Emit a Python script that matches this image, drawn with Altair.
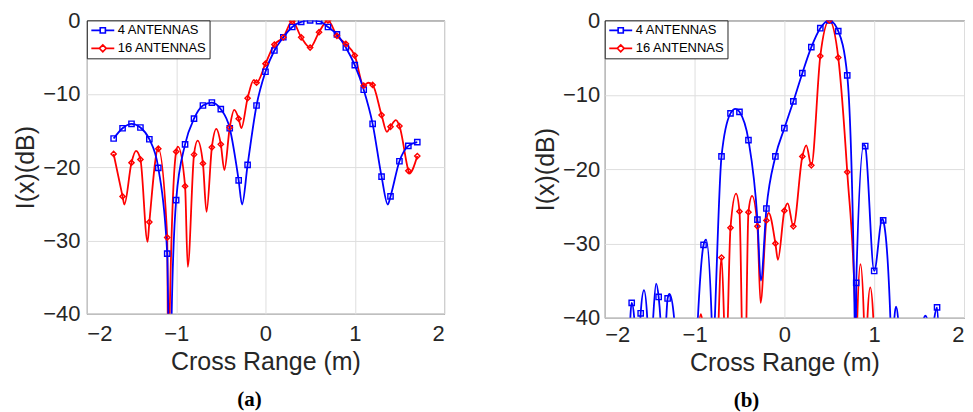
import altair as alt
import pandas as pd

# ---------------- data ----------------
SERIES = ["4 ANTENNAS", "16 ANTENNAS"]

X_MARK = [-1.7, -1.6, -1.5, -1.4, -1.3, -1.2, -1.1, -1.0, -0.9, -0.8, -0.7, -0.6,
          -0.5, -0.4, -0.3, -0.2, -0.1, 0.0, 0.1, 0.2, 0.3, 0.4, 0.5, 0.6, 0.7,
          0.8, 0.9, 1.0, 1.1, 1.2, 1.3, 1.4, 1.5, 1.6, 1.7]

# panel (a) marker values (dB)
A_BLUE = [-16.1, -14.7, -14.1, -14.6, -16.2, -20.1, -31.8, -24.5, -16.9, -13.4, -11.6, -11.2,
          -12.1, -14.7, -21.8, -19.7, -11.6, -7.0, -4.1, -2.3, -0.9, -0.2, 0.0, -0.1, -0.9,
          -1.9, -3.7, -6.1, -9.45, -14.1, -21.3, -24.0, -19.2, -17.1, -16.6]
A_RED = [-18.2, -24.0, -19.4, -18.95, -27.5, -17.5, -29.6, -17.9, -22.6, -18.3, -19.5, -17.3,
         -16.9, -14.6, -13.4, -10.6, -8.5, -5.9, -3.3, -2.3, -0.1, -2.3, -3.7, -1.6, 0.0,
         -2.1, -3.2, -4.8, -8.9, -8.8, -12.9, -14.5, -14.4, -20.5, -18.5]
# panel (a) extra curve points (peaks, nulls) between markers
A_BLUE_EX_X = [-1.088, -1.07, -1.05, -0.262, 1.37]
A_BLUE_EX_Y = [-40.0, -55.0, -40.0, -25.1, -25.1]
A_RED_EX_X = [-1.58, -1.45, -1.32, -1.087, -1.072, -0.98, -0.87, -0.76, -0.66, -0.55,
              -0.46, -0.35, -0.27, -0.13, 1.15, 1.36, 1.46, 1.61]
A_RED_EX_Y = [-25.1, -17.8, -30.2, -55.0, -40.0, -17.2, -33.6, -16.4, -26.1, -14.8,
              -20.4, -12.2, -14.7, -8.1, -8.5, -15.2, -13.6, -20.9]

# panel (b) marker values (dB); values under -40 are off the plot
B_BLUE = [-38.0, -39.4, -50.0, -37.2, -37.4, -50.0, -50.0, -50.0, -30.2, -48.0, -18.3, -12.5,
          -12.3, -16.1, -26.8, -25.3, -18.3, -14.5, -10.9, -7.1, -3.6, -1.05, 0.0, -1.45, -7.4,
          -35.3, -16.9, -33.7, -26.9, -50.0, -50.0, -50.0, -50.0, -50.0, -38.6]
B_RED = [-50.0, -50.0, -50.0, -50.0, -50.0, -50.0, -50.0, -50.0, -41.5, -55.0, -31.9, -27.9,
         -25.7, -25.8, -27.7, -26.9, -30.0, -25.6, -27.7, -18.3, -19.5, -4.8, 0.0, -5.0, -20.4,
         -50.0, -50.0, -50.0, -50.0, -50.0, -50.0, -50.0, -50.0, -50.0, -50.0]
B_BLUE_EX_X = [-1.73, -1.715, -1.672, -1.64, -1.563, -1.527, -1.461, -1.428, -1.381, -1.35,
               -1.315, -1.279, -1.228, -0.963, -0.872, -0.81, -0.774, -0.545, -0.262,
               0.782, 0.79, 0.885, 1.09, 1.18, 1.225, 1.243, 1.265, 1.555, 1.57, 1.585,
               1.67, 1.725]
B_BLUE_EX_Y = [-50.0, -40.0, -40.0, -50.0, -36.3, -40.0, -40.0, -35.4, -40.0, -50.0,
               -40.0, -36.8, -40.0, -40.0, -29.5, -40.0, -40.0, -11.9, -35.0,
               -40.0, -55.0, -16.7, -26.7, -40.0, -40.0, -38.5, -40.0, -40.0, -39.7, -40.0,
               -40.0, -44.0]
B_RED_EX_X = [-0.96, -0.93, -0.75, -0.65, -0.538, -0.447, -0.36, -0.265, -0.175, -0.072,
              0.037, 0.244, 0.79, 0.812, 0.847, 0.885, 0.925, 0.956, 0.99]
B_RED_EX_Y = [-42.0, -39.5, -46.0, -46.0, -23.3, -55.0, -23.6, -38.0, -25.9, -32.2,
              -24.6, -16.8, -40.0, -40.0, -32.8, -40.0, -40.0, -35.9, -40.0]

BLUE = "#0000ff"
RED = "#ff0000"
FONT = "Liberation Sans"
TXT = "#262626"


def frames(blue, red, bx, by, rx, ry):
    marks = pd.DataFrame({
        "x": X_MARK + X_MARK,
        "y": blue + red,
        "series": [SERIES[0]] * len(X_MARK) + [SERIES[1]] * len(X_MARK),
    })
    extra = pd.DataFrame({
        "x": bx + rx,
        "y": by + ry,
        "series": [SERIES[0]] * len(bx) + [SERIES[1]] * len(rx),
    })
    line = pd.concat([marks, extra]).sort_values(["series", "x"]).reset_index(drop=True)
    return marks, line


legend_paths = [
    "M-2,0H-0.45M0.45,0H2M-0.45,-0.45H0.45V0.45H-0.45Z",
    "M-2,0H-0.6M0.6,0H2M0,-0.6L0.6,0L0,0.6L-0.6,0Z",
]


def cscale():
    return alt.Scale(domain=SERIES, range=[BLUE, RED])


def panel(blue, red, bx, by, rx, ry, w, h, caption, cap_dx, lab_pad, xlab_pad):
    marks, line = frames(blue, red, bx, by, rx, ry)
    xenc = alt.X("x:Q", scale=alt.Scale(domain=[-2, 2], nice=False),
                 axis=alt.Axis(values=[-2, -1, 0, 1, 2], title="Cross Range (m)",
                               format="d", labelPadding=xlab_pad, titlePadding=5))
    yenc = alt.Y("y:Q", scale=alt.Scale(domain=[-40, 0], nice=False),
                 axis=alt.Axis(values=[-40, -30, -20, -10, 0], title="I(x)(dB)",
                               format="d", labelPadding=lab_pad, titlePadding=4))
    lines = alt.Chart(line).mark_line(clip=True, strokeWidth=1.8, interpolate="monotone").encode(
        x=xenc, y=yenc,
        color=alt.Color("series:N", scale=cscale(), legend=None),
    )
    pts = alt.Chart(marks).mark_point(clip=True, filled=False, size=28, strokeWidth=1.4, opacity=1).encode(
        x="x:Q", y="y:Q",
        color=alt.Color("series:N", scale=cscale(), legend=None),
        shape=alt.Shape("series:N", scale=alt.Scale(domain=SERIES, range=["square", "diamond"]), legend=None),
    )
    leg_props = dict(title=None, orient="top-left", offset=0, padding=3,
                     strokeColor=TXT, fillColor="white", labelFont=FONT, labelFontSize=13,
                     labelColor="black", symbolSize=132, symbolStrokeWidth=1.6,
                     symbolOpacity=1, symbolOffset=6, labelOffset=8, rowPadding=4,
                     cornerRadius=0)
    leg = alt.Chart(marks).mark_point(clip=True, filled=False, opacity=0).encode(
        x="x:Q", y="y:Q",
        color=alt.Color("series:N", scale=cscale(), legend=alt.Legend(**leg_props)),
        shape=alt.Shape("series:N", scale=alt.Scale(domain=SERIES, range=legend_paths),
                        legend=alt.Legend(**leg_props)),
    )
    return alt.layer(lines, pts, leg).resolve_scale(
        shape="independent", color="independent"
    ).properties(
        width=w, height=h,
        title=alt.TitleParams(text=caption, orient="bottom", anchor="middle",
                              font="Liberation Serif", fontSize=21, fontWeight="bold",
                              color="black", dx=cap_dx, offset=14),
    )


pa = panel(A_BLUE, A_RED, A_BLUE_EX_X, A_BLUE_EX_Y, A_RED_EX_X, A_RED_EX_Y,
           358, 294, "(a)", -16, 7, 10)
pb = panel(B_BLUE, B_RED, B_BLUE_EX_X, B_BLUE_EX_Y, B_RED_EX_X, B_RED_EX_Y,
           360, 298, "(b)", -38, 5, 7)

chart = alt.hconcat(pa, pb, spacing=88).resolve_scale(
    color="independent", shape="independent"
).resolve_legend(color="independent", shape="independent").properties(
    padding={"left": 5, "top": 0, "right": 0, "bottom": 0},
    background="white",
).configure_view(
    stroke=TXT, strokeWidth=1
).configure_axis(
    grid=True, gridColor="#dedede", gridWidth=1, domain=False, ticks=False,
    labelFont=FONT, labelFontSize=22, labelColor=TXT,
    titleFont=FONT, titleFontSize=25, titleFontWeight="normal", titleColor=TXT,
)

chart.save("out.html", embed_options={"renderer": "svg", "actions": False})
